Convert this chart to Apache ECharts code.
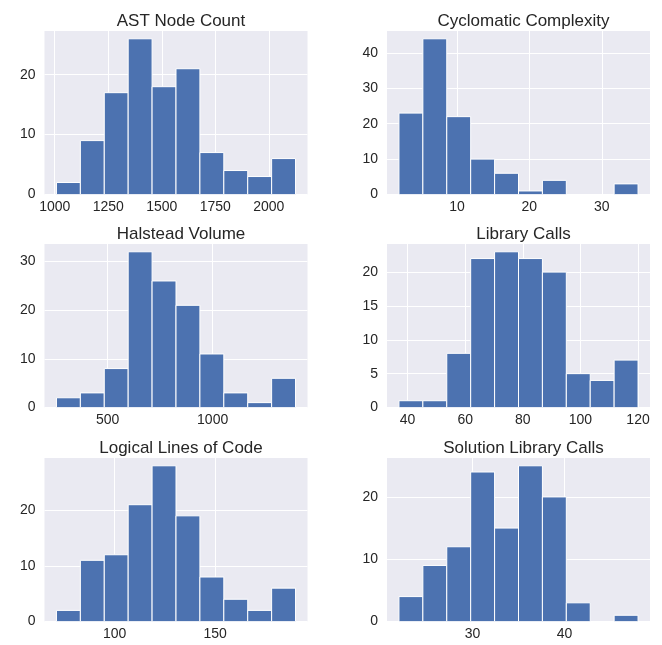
<!DOCTYPE html>
<html>
<head>
<meta charset="utf-8">
<script src="https://cdn.jsdelivr.net/npm/echarts@6/dist/echarts.min.js"></script>
<style>html,body{margin:0;padding:0;background:#fff;}#c{width:662px;height:645px;}</style>
</head>
<body>
<div id="c"></div>
<script>
// Panel titles
const titles = ["AST Node Count", "Cyclomatic Complexity", "Halstead Volume", "Library Calls", "Logical Lines of Code", "Solution Library Calls"];

// Histogram counts (10 bins each)
const astCounts = [2, 9, 17, 26, 18, 21, 7, 4, 3, 6];
const cycCounts = [23, 44, 22, 10, 6, 1, 4, 0, 0, 3];
const halCounts = [2, 3, 8, 32, 26, 21, 11, 3, 1, 6];
const libCounts = [1, 1, 8, 22, 23, 22, 20, 5, 4, 7];
const llocCounts = [2, 11, 12, 21, 28, 19, 8, 4, 2, 6];
const solCounts = [4, 9, 12, 24, 15, 25, 20, 3, 0, 1];

// Data range (min, max) of each variable -> bin edges
const astRange = [1008, 2125];
const cycRange = [2, 35];
const halRange = [256, 1395];
const libRange = [37, 120];
const llocRange = [71, 190];
const solRange = [22, 48];

// Tick labels
const astXTicks = [1000, 1250, 1500, 1750, 2000];
const cycXTicks = [10, 20, 30];
const halXTicks = [500, 1000];
const libXTicks = [40, 60, 80, 100, 120];
const llocXTicks = [100, 150];
const solXTicks = [30, 40];

const astYTicks = [0, 10, 20];
const cycYTicks = [0, 10, 20, 30, 40];
const halYTicks = [0, 10, 20, 30];
const libYTicks = [0, 5, 10, 15, 20];
const llocYTicks = [0, 10, 20];
const solYTicks = [0, 10, 20];

const panels = [
  {counts: astCounts, range: astRange, xt: astXTicks, yt: astYTicks},
  {counts: cycCounts, range: cycRange, xt: cycXTicks, yt: cycYTicks},
  {counts: halCounts, range: halRange, xt: halXTicks, yt: halYTicks},
  {counts: libCounts, range: libRange, xt: libXTicks, yt: libYTicks},
  {counts: llocCounts, range: llocRange, xt: llocXTicks, yt: llocYTicks},
  {counts: solCounts, range: solRange, xt: solXTicks, yt: solYTicks}
];

const colLeft = [44.5, 387];
const colWidth = 263;
const rowTop = [31, 244, 458];
const rowHeight = 163.5;
const FONT = "'Liberation Sans', Arial, Helvetica, sans-serif";
const TXT = '#262626';

const grids = [], xAxes = [], yAxes = [], series = [], tl = [];
panels.forEach((p, i) => {
  const col = i % 2, row = Math.floor(i / 2);
  const left = colLeft[col], top = rowTop[row];
  grids.push({left: left, top: top, width: colWidth, height: rowHeight, show: true, backgroundColor: '#EAEAF2', borderWidth: 0});
  const n = p.counts.length;
  const w = (p.range[1] - p.range[0]) / n;
  const data = p.counts.map((c, k) => [p.range[0] + k * w, p.range[0] + (k + 1) * w, c]);
  const span = p.range[1] - p.range[0];
  const ymax = Math.max.apply(null, p.counts) * 1.05;
  xAxes.push({
    type: 'value', gridIndex: i, min: p.range[0] - 0.05 * span, max: p.range[1] + 0.05 * span,
    axisLine: {show: false}, axisTick: {show: false, customValues: p.xt},
    axisLabel: {customValues: p.xt, color: TXT, fontSize: 14, fontFamily: FONT, margin: 6,
      formatter: v => String(v)},
    splitLine: {show: true, lineStyle: {color: '#ffffff', width: 1}}
  });
  yAxes.push({
    type: 'value', gridIndex: i, min: 0, max: ymax,
    axisLine: {show: false}, axisTick: {show: false, customValues: p.yt},
    axisLabel: {customValues: p.yt, color: TXT, fontSize: 14, fontFamily: FONT, margin: 9,
      formatter: v => String(v)},
    splitLine: {show: true, lineStyle: {color: '#ffffff', width: 1}}
  });
  series.push({
    type: 'custom', xAxisIndex: i, yAxisIndex: i, data: data,
    encode: {x: [0, 1], y: 2}, clip: true,
    renderItem: function (params, api) {
      const p0 = api.coord([api.value(0), api.value(2)]);
      const p1 = api.coord([api.value(1), 0]);
      return {type: 'rect', shape: {x: p0[0], y: p0[1], width: p1[0] - p0[0], height: p1[1] - p0[1]},
        style: {fill: '#4C72B0', stroke: '#ffffff', lineWidth: 1}};
    }
  });
  tl.push({text: titles[i], left: left + colWidth / 2, top: top - 23, textAlign: 'center',
    textStyle: {color: TXT, fontSize: 17, fontWeight: 'normal', fontFamily: FONT}});
});

const chart = echarts.init(document.getElementById('c'), null, {renderer: 'canvas'});
chart.setOption({animation: false, title: tl, grid: grids, xAxis: xAxes, yAxis: yAxes, series: series});
</script>
</body>
</html>
